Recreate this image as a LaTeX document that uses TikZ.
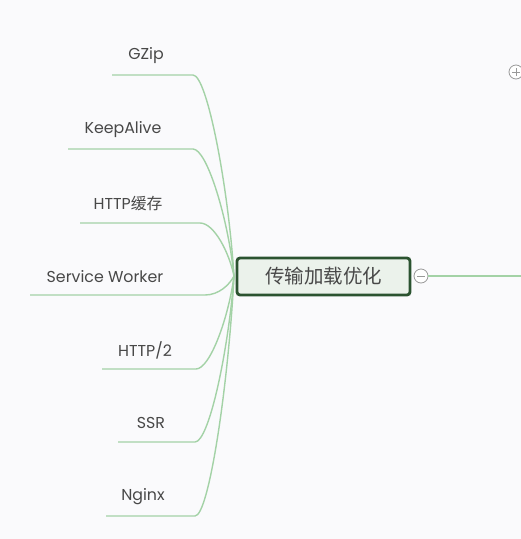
\documentclass[tikz,border=0pt]{standalone}
\usepackage{fontspec}
\setmainfont{Poppins}
\newfontfamily\cjk{Noto Sans CJK SC}
\definecolor{linegreen}{HTML}{A3D2A6}
\definecolor{darkgreen}{HTML}{2B5330}
\definecolor{nodefill}{HTML}{EBF2EB}
\definecolor{txtgray}{HTML}{484848}
\definecolor{bg}{HTML}{FAFAFC}
\tikzset{
  branchline/.style={draw=linegreen, line width=1.4pt},
  leaf/.style={font=\fontsize{15.8}{18}\selectfont, text=txtgray, inner sep=0pt, anchor=center},
  central/.style={draw=darkgreen, line width=2.8pt, fill=nodefill, rounded corners=3pt,
    minimum width=173pt, minimum height=37pt, inner sep=0pt,
    font=\cjk\fontsize{19.5}{21}\selectfont, text=txtgray},
  toggle/.style={circle, draw=gray!80, fill=white, line width=0.8pt, minimum size=14pt, inner sep=0pt}
}
\newcommand{\branch}[4]{%
  % #1 label node name, #2 underline y, #3 left x, #4 right x
  \coordinate (#1L) at (#3,#2);
  \coordinate (#1R) at (#4,#2);
  \pgfmathsetmacro{\cax}{#4+14}
  \pgfmathsetmacro{\cbx}{233-0.12*(233-#4)}
  \pgfmathsetmacro{\cby}{276+0.45*(#2-276)}
  \draw[branchline] (hub) .. controls (\cbx,\cby) and (\cax,#2) .. (#1R) -- (#1L);
}
\begin{document}
\begin{tikzpicture}[x=1pt,y=-1pt]
\fill[bg] (0,0) rectangle (521,539);
\useasboundingbox (0,0) rectangle (521,539);
\coordinate (rightend) at (521,276);
\coordinate (hub) at (234,276);
% leaves
\node[leaf] (gzip) at (146,56) {GZip};
\node[leaf] (keep) at (123,130) {KeepAlive};
\node[leaf] (cache) at (128,204) {HTTP{\cjk 缓存}};
\node[leaf] (sw) at (105,277) {Service Worker};
\node[leaf] (h2) at (145,350) {HTTP/2};
\node[leaf] (ssr) at (151,423) {SSR};
\node[leaf] (nginx) at (143,497) {Nginx};
\branch{gzip}{75}{112}{193}
\branch{keep}{149}{68}{193}
\branch{cache}{223}{80}{200}
\branch{sw}{295}{30}{205}
\branch{h2}{369}{102}{196}
\branch{ssr}{442}{118}{195}
\branch{nginx}{516}{106}{195}
% central node
\node[central] (root) at (323.5,276.5) {传输加载优化};
\node[toggle] (minus) at (421,276) {};
\draw[branchline, line width=1.2pt] (minus.east) -- (rightend);
\draw[gray!80, line width=0.8pt] ([xshift=-4pt]minus.center) -- ([xshift=4pt]minus.center);
\node[toggle] (plus) at (516,72) {};
\draw[gray!80, line width=0.8pt] ([xshift=-4pt]plus.center) -- ([xshift=4pt]plus.center)
  ([yshift=-4pt]plus.center) -- ([yshift=4pt]plus.center);
\end{tikzpicture}
\end{document}
